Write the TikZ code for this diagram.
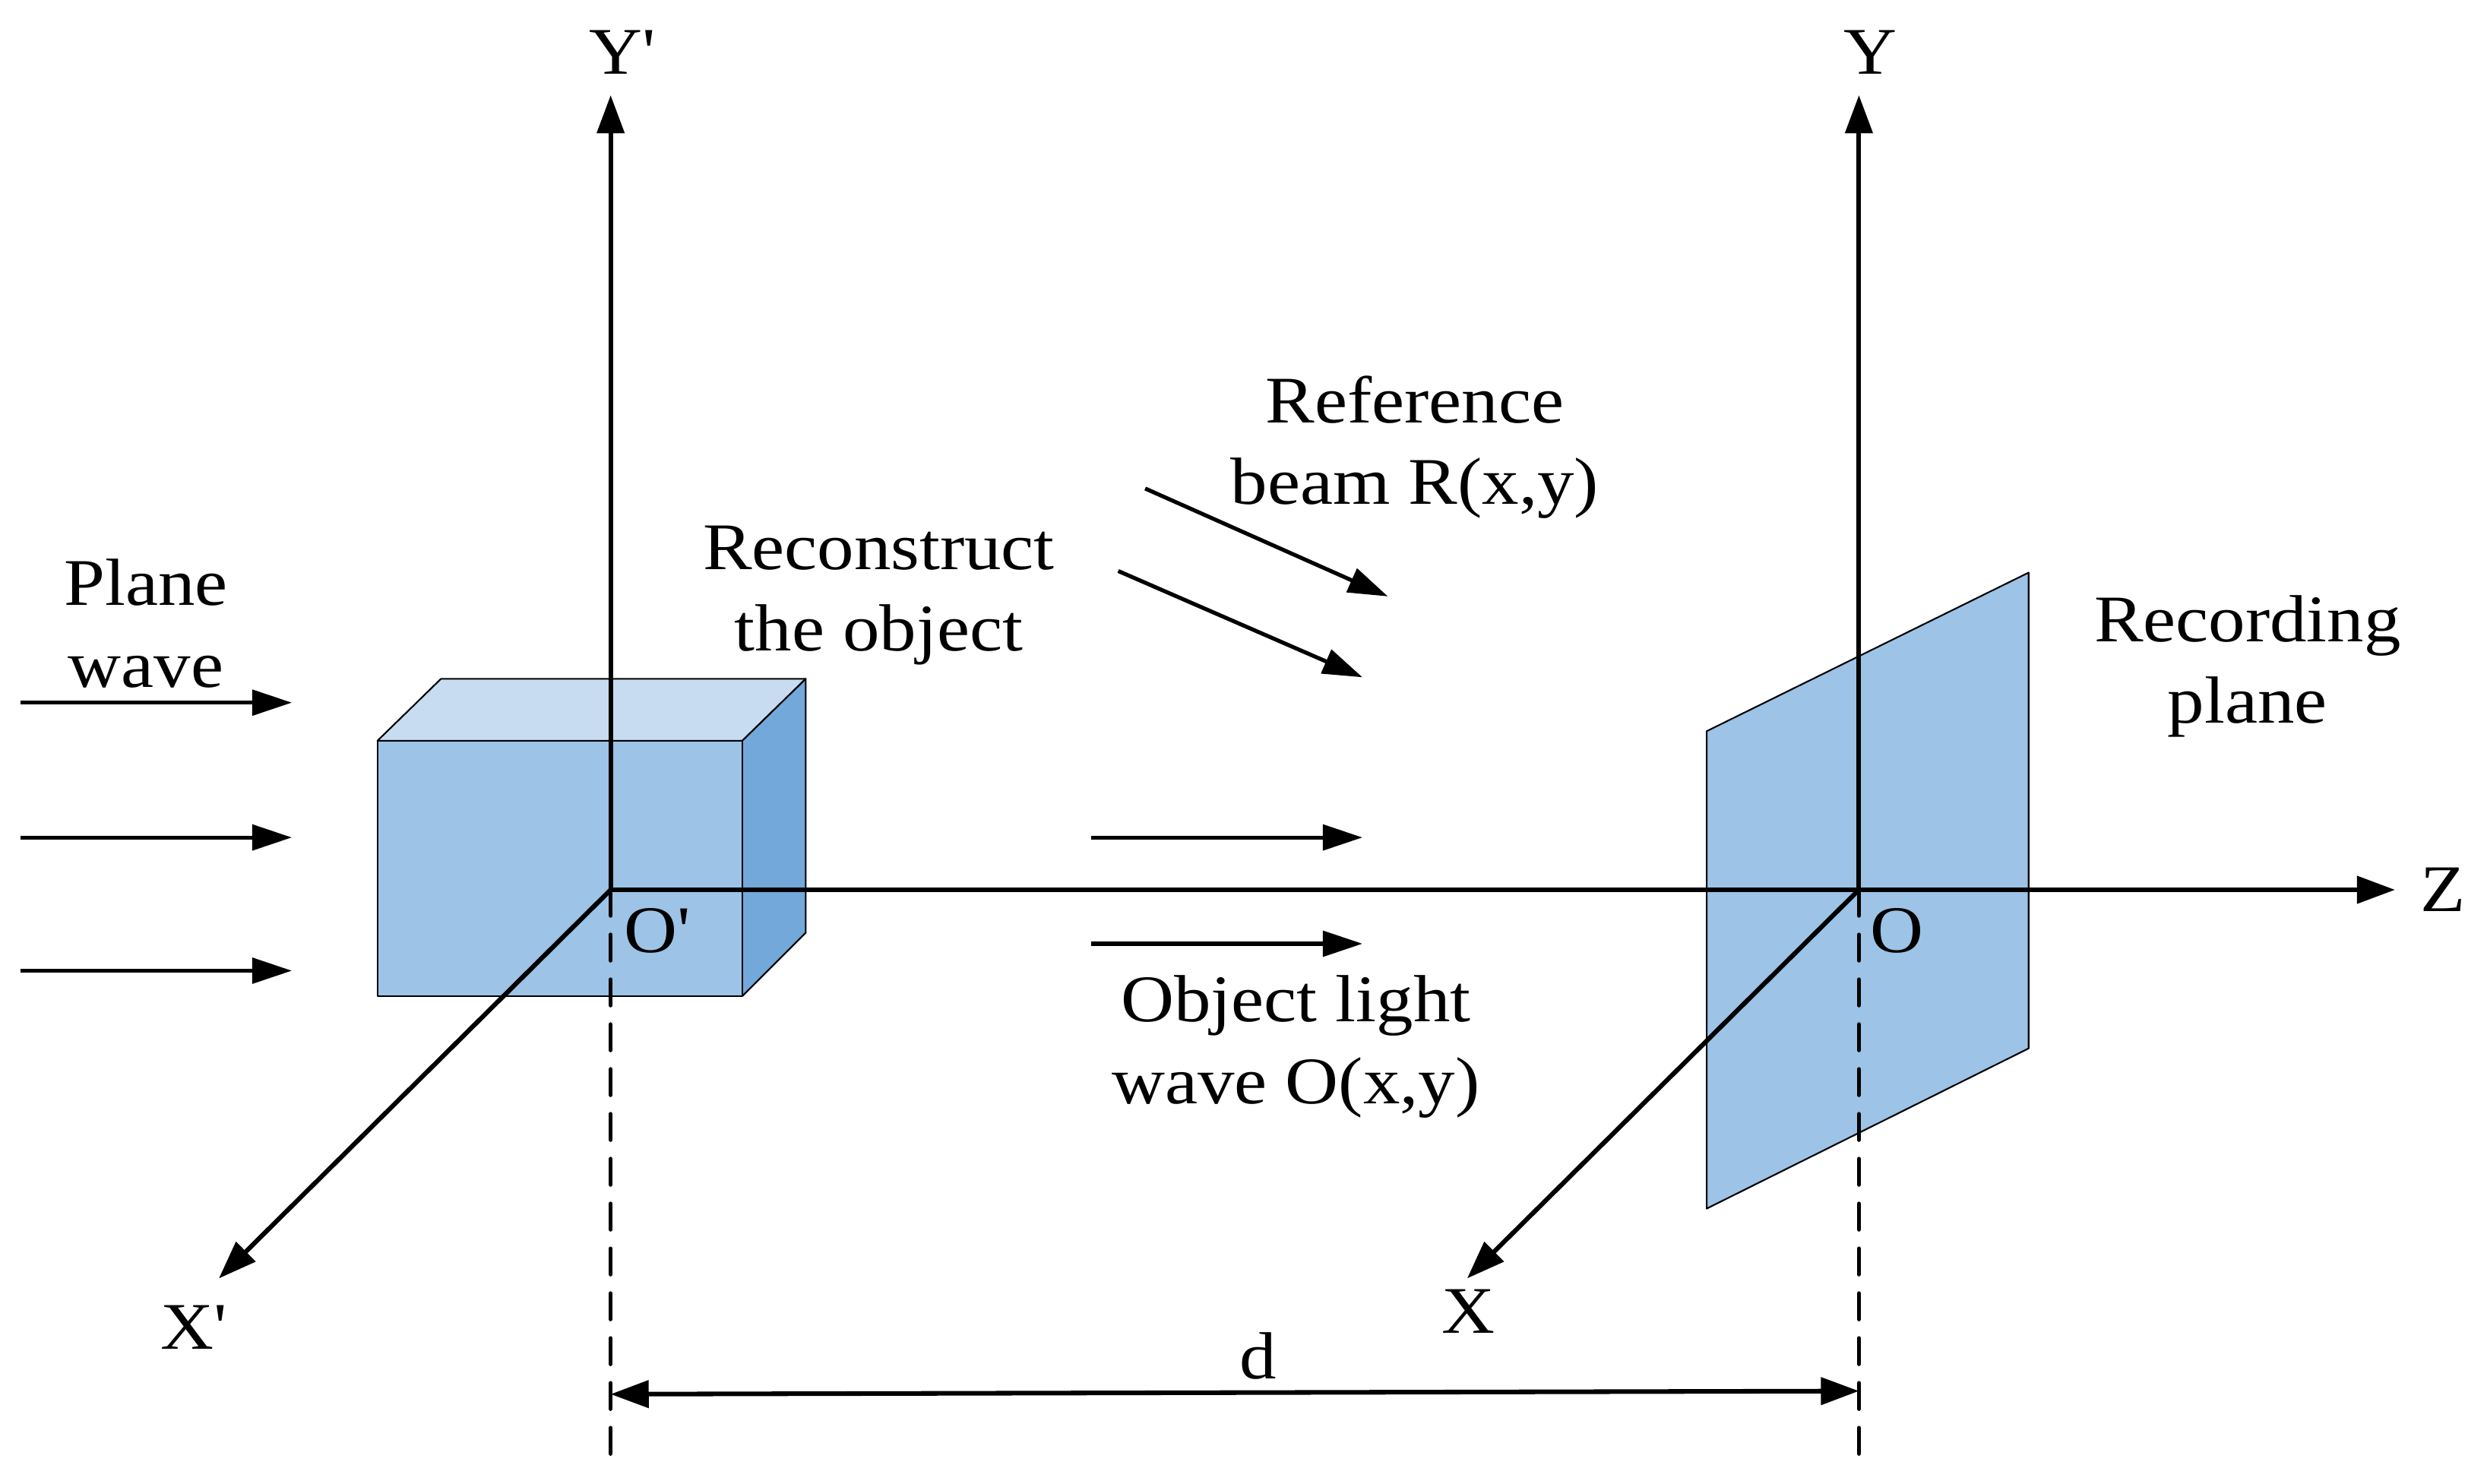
\documentclass[tikz,border=0pt]{standalone}
\usepackage{fontspec}
\setmainfont[FakeStretch=1.105]{Liberation Serif}
\usetikzlibrary{arrows.meta}
\definecolor{front}{HTML}{9DC3E6}
\definecolor{topface}{HTML}{C8DCF1}
\definecolor{sideface}{HTML}{73A8DA}
\tikzset{
  axis/.style={line width=2.9pt,-{Triangle[length=24pt,width=17pt]}},
  ray/.style={line width=2.5pt,-{Triangle[length=25pt,width=16pt]}},
  guide/.style={line width=2.6pt,line cap=round,dash pattern=on 16.3pt off 11.97pt},
  span/.style={line width=2.9pt,{Triangle[length=24pt,width=17pt]}-{Triangle[length=24pt,width=17pt]}},
  face/.style={draw=black,line width=1pt,line join=round},
  lbl/.style={font=\fontsize{42}{51.5}\selectfont,align=center,inner sep=0pt,text=black}
}
\begin{document}
\begin{tikzpicture}[x=1pt,y=-1pt]
\useasboundingbox (0,0) rectangle (1568,935.6);
% faces
\fill[white] (0,0) rectangle (1568,935.6);
\draw[face,fill=front] (1076,461) -- (1279,361) -- (1279,661) -- (1076,762) -- cycle;
\draw[face,fill=topface] (238,467) -- (278,428) -- (508,428) -- (468,467) -- cycle;
\draw[face,fill=sideface] (468,467) -- (508,428) -- (508,588) -- (468,628) -- cycle;
\draw[face,fill=front] (238,467) rectangle (468,628);
% points
\coordinate (op) at (385,561);
\coordinate (o) at (1172,561);
\coordinate (ypt) at (385,60);
\coordinate (yt) at (1172,60);
\coordinate (zt) at (1510,561);
\coordinate (xpt) at (138,806);
\coordinate (xt) at (925,806);
\coordinate (dl) at (385,918);
\coordinate (dr) at (1172,918);
\coordinate (sl) at (385,879);
\coordinate (sr) at (1172,877);
% guides
\draw[guide] (op) -- (dl);
\draw[guide] (o) -- (dr);
% axes
\draw[axis] (op) -- (ypt);
\draw[axis] (o) -- (yt);
\draw[axis] (op) -- (zt);
\draw[axis] (op) -- (xpt);
\draw[axis] (o) -- (xt);
\draw[span] (sl) -- (sr);
% rays
\foreach \n/\xa/\ya/\xb/\yb in {a/13/443/184/443,b/13/528/184/528,c/13/612/184/612,d/688/528/859/528,e/688/595/859/595,f/722/308/875/376,g/705/360/859/427}{
  \coordinate (r\n s) at (\xa,\ya);
  \coordinate (r\n e) at (\xb,\yb);
  \draw[ray] (r\n s) -- (r\n e);
}
% labels
\node[lbl] (lypt) at (392,33) {Y\textquotesingle};
\node[lbl] (lyt) at (1179,33) {Y};
\node[lbl] (lzt) at (1540,561) {Z};
\node[lbl] (lxpt) at (122,837) {X\textquotesingle};
\node[lbl] (lxt) at (926,827) {X};
\node[lbl] (lop) at (414,587) {O\textquotesingle};
\node[lbl] (lo) at (1196,587) {O};
\node[lbl] (ld) at (793,855) {d};
\node[lbl] (lpw) at (92,393) {Plane\\wave};
\node[lbl] (lrc) at (554,375.5) {Reconstruct\\the object};
\node[lbl] (lrb) at (892,282) {Reference\\beam R(x,y)};
\node[lbl] (lrp) at (1417,420) {Recording\\plane};
\node[lbl] (lol) at (817,660) {Object light\\wave O(x,y)};
\end{tikzpicture}
\end{document}
